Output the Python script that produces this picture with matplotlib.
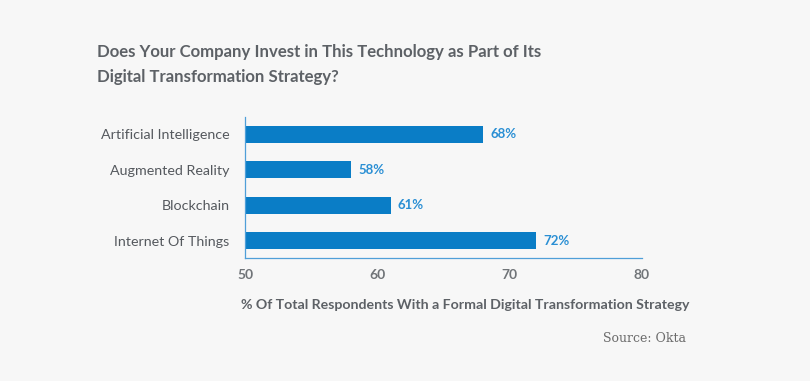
import matplotlib
matplotlib.use("Agg")
from matplotlib import pyplot as plt

categories = ["Artificial Intelligence", "Augmented Reality", "Blockchain", "Internet Of Things"]
values = [68, 58, 61, 72]
x_ticks = [50, 60, 70, 80]

plt.rcParams['font.family'] = ['Lato', 'DejaVu Sans']

bg = '#f7f7f7'
bar_color = '#0a7dc6'
text_gray = '#5d6166'

fig = plt.figure(figsize=(8.1, 3.81), dpi=100, facecolor=bg)
ax = fig.add_axes([0.3025, 0.3228, 0.4901, 0.370], facecolor=bg)

positions = list(range(len(categories)))
ax.barh(positions, [v - 50 for v in values], left=50, height=0.48, color=bar_color)
for pos, val in zip(positions, values):
    ax.text(val + 0.55, pos, f"{val}%", va='center', ha='left',
            fontsize=9.5, fontweight='bold', color='#2a8fd4')

ax.set_xlim(50, 80)
ax.set_ylim(3.48, -0.48)
ax.set_xticks(x_ticks)
ax.set_xticklabels([str(t) for t in x_ticks], fontsize=10, fontweight='bold', color='#707478')
ax.set_yticks(positions)
ax.set_yticklabels(categories, fontsize=10.3, color='#55595e')
ax.tick_params(axis='both', length=0)
ax.tick_params(axis='x', pad=8)
ax.tick_params(axis='y', pad=11)

for side in ['top', 'right']:
    ax.spines[side].set_visible(False)
for side in ['left', 'bottom']:
    ax.spines[side].set_color('#4f9fd8')
    ax.spines[side].set_linewidth(0.9)

ax.set_xlabel("% Of Total Respondents With a Formal Digital Transformation Strategy",
              fontsize=10.2, fontweight='bold', color=text_gray, labelpad=13, x=0.554)

fig.text(97/810, 1 - 52/381, "Does Your Company Invest in This Technology as Part of Its",
         fontsize=12.1, fontweight='bold', color=text_gray, va='center', ha='left')
fig.text(97/810, 1 - 77/381, "Digital Transformation Strategy?",
         fontsize=12.1, fontweight='bold', color=text_gray, va='center', ha='left')
fig.text(686/810, 1 - 339/381, "Source: Okta", fontsize=9, color='#6b6b6b',
         family=['DejaVu Serif'], va='center', ha='right')

fig.savefig("out.png", dpi=100, facecolor=bg)
